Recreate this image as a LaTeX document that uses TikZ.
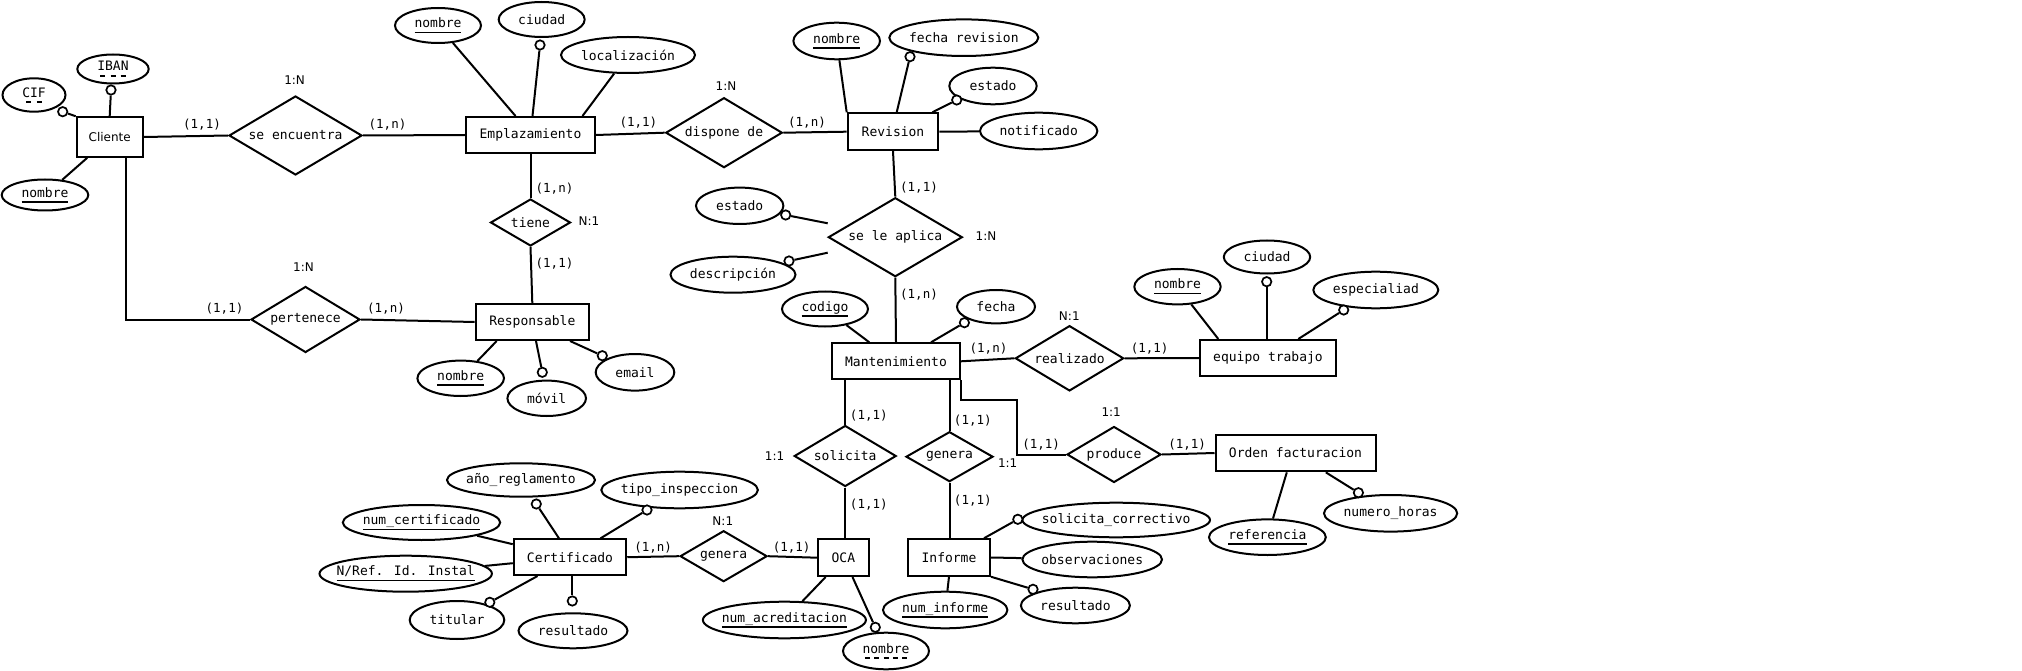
\documentclass[tikz,border=0pt]{standalone}
\usepackage{fontspec}
\setmainfont{DejaVu Sans Mono}
\newfontfamily\sansf{DejaVu Sans}
\newsavebox\ulbox
\newcommand\uln[1]{\sbox\ulbox{#1}\rlap{\rule[-5.5pt]{\wd\ulbox}{1.6pt}}\usebox\ulbox}
\newcommand\dln[1]{\sbox\ulbox{#1}\rlap{\hbox to \wd\ulbox{\xleaders\hbox{\kern2pt\vrule height -4pt depth 5.6pt width 5pt\kern2pt}\hfill}}\usebox\ulbox}
\newcommand\zb[1]{\makebox[0pt]{#1}}
\usetikzlibrary{shapes.geometric}
\tikzset{
  ent/.style={draw, rectangle, line width=2pt, inner sep=0pt, font=\fontsize{13}{15}\selectfont},
  rel/.style={draw, diamond, line width=2pt, inner sep=0pt, font=\fontsize{13}{15}\selectfont},
  attr/.style={draw, ellipse, line width=2pt, inner sep=0pt, font=\fontsize{13}{15}\selectfont},
  opt/.style={draw, circle, fill=white, line width=1.7pt, minimum size=9.4pt, inner sep=0pt},
  card/.style={inner sep=0pt, font=\fontsize{12.5}{14}\selectfont},
  ratio/.style={inner sep=0pt, font=\sansf\fontsize{12}{14}\selectfont},
  conn/.style={line width=2pt},
}
\begin{document}
\begin{tikzpicture}[x=1pt, y=-1pt]
\fill[white] (0,0) rectangle (2022,671);
\path[use as bounding box] (0,0) rectangle (2022,671);

% ---------------- entities
\node[ent, minimum width=66pt, minimum height=39.5pt, font=\sansf\fontsize{12}{14}\selectfont] (cli) at (109.7,137) {Cliente};
\node[ent, minimum width=129pt, minimum height=36pt] (empl) at (530.5,135) {Emplazamiento};
\node[ent, minimum width=113.3pt, minimum height=36pt] (resp) at (532.3,322) {Responsable};
\node[ent, minimum width=90.6pt, minimum height=36.7pt] (rev) at (893,131.7) {Revision};
\node[ent, minimum width=128pt, minimum height=36pt] (mant) at (896,361.3) {Mantenimiento};
\node[ent, minimum width=136pt, minimum height=36pt] (equipo) at (1268,358) {equipo trabajo};
\node[ent, minimum width=160pt, minimum height=36.7pt] (orden) at (1295.5,453) {Orden facturacion};
\node[ent, minimum width=51pt, minimum height=36.7pt] (oca) at (843.4,557.7) {OCA};
\node[ent, minimum width=82pt, minimum height=36.5pt] (inf) at (949,557.5) {Informe};
\node[ent, minimum width=112.5pt, minimum height=35.7pt] (cert) at (570,557.2) {Certificado};

% ---------------- relationships
\node[rel, minimum width=133pt, minimum height=79pt] (seenc) at (295.5,135.5) {\zb{se encuentra}};
\node[rel, minimum width=116.6pt, minimum height=70pt] (dispone) at (724,132.7) {\zb{dispone de}};
\node[rel, minimum width=80pt, minimum height=47pt] (tiene) at (530.5,222.5) {\zb{tiene}};
\node[rel, minimum width=109pt, minimum height=66pt] (pert) at (305.5,319.5) {\zb{pertenece}};
\node[rel, minimum width=134pt, minimum height=79pt] (aplica) at (895.3,237.2) {\zb{se le aplica}};
\node[rel, minimum width=108.4pt, minimum height=65.3pt] (realiz) at (1069.5,358.3) {\zb{realizado}};
\node[rel, minimum width=102pt, minimum height=61pt] (solic) at (845.2,456) {\zb{solicita}};
\node[rel, minimum width=87pt, minimum height=50pt] (generaI) at (949.5,456.7) {\zb{genera}};
\node[rel, minimum width=94pt, minimum height=56pt] (produce) at (1114,454.5) {\zb{produce}};
\node[rel, minimum width=87pt, minimum height=51pt] (generaC) at (723.6,556.2) {\zb{genera}};

% ---------------- attributes
\node[attr, minimum width=71.4pt, minimum height=29pt] (iban) at (113,69) {\zb{\dln{IBAN}}};
\node[attr, minimum width=63pt, minimum height=33.4pt] (cif) at (34,95) {\zb{\dln{CIF}}};
\node[attr, minimum width=86.6pt, minimum height=31pt] (nomCli) at (45,195) {\zb{\uln{nombre}}};
\node[attr, minimum width=86pt, minimum height=35pt] (nomEmp) at (438,25.5) {\zb{\uln{nombre}}};
\node[attr, minimum width=86pt, minimum height=35pt] (ciudE) at (541.7,19.5) {\zb{ciudad}};
\node[attr, minimum width=134pt, minimum height=36pt] (locE) at (628,55) {\zb{localización}};
\node[attr, minimum width=86.6pt, minimum height=35.4pt] (nomResp) at (460.7,378.3) {\zb{\uln{nombre}}};
\node[attr, minimum width=78.6pt, minimum height=35.4pt] (movil) at (546.7,398.3) {\zb{móvil}};
\node[attr, minimum width=78.6pt, minimum height=36.6pt] (email) at (635,372.3) {\zb{email}};
\node[attr, minimum width=86.6pt, minimum height=36.6pt] (nomRev) at (836.7,41) {\zb{\uln{nombre}}};
\node[attr, minimum width=149pt, minimum height=36.6pt] (fechaRev) at (963.8,37.7) {\zb{fecha revision}};
\node[attr, minimum width=87.4pt, minimum height=36.6pt] (estRev) at (993,86) {\zb{estado}};
\node[attr, minimum width=117.4pt, minimum height=36.6pt] (notif) at (1038.7,131) {\zb{notificado}};
\node[attr, minimum width=87.4pt, minimum height=36.4pt] (estAp) at (739.7,205.8) {\zb{estado}};
\node[attr, minimum width=125pt, minimum height=36pt] (desc) at (733,274.7) {\zb{descripción}};
\node[attr, minimum width=86pt, minimum height=35pt] (codigo) at (825,309) {\zb{\uln{codigo}}};
\node[attr, minimum width=78pt, minimum height=33.4pt] (fechaM) at (996,306.7) {\zb{fecha}};
\node[attr, minimum width=86.4pt, minimum height=35.4pt] (nomEq) at (1177.5,286.7) {\zb{\uln{nombre}}};
\node[attr, minimum width=86.4pt, minimum height=33pt] (ciudEq) at (1267,257) {\zb{ciudad}};
\node[attr, minimum width=125pt, minimum height=36.6pt] (espec) at (1375.8,290) {\zb{especialiad}};
\node[attr, minimum width=116.8pt, minimum height=35.6pt] (refE) at (1267.4,537.2) {\zb{\uln{referencia}}};
\node[attr, minimum width=133.2pt, minimum height=36.6pt] (numHoras) at (1390.6,513.3) {\zb{numero\_horas}};
\node[attr, minimum width=187.6pt, minimum height=34.6pt] (solCorr) at (1116.2,520) {\zb{solicita\_correctivo}};
\node[attr, minimum width=139.6pt, minimum height=35.6pt] (obs) at (1092.2,559.5) {\zb{observaciones}};
\node[attr, minimum width=109pt, minimum height=35.6pt] (resInf) at (1075.4,605.5) {\zb{resultado}};
\node[attr, minimum width=124.4pt, minimum height=36.6pt] (numInf) at (945.2,610) {\zb{\uln{num\_informe}}};
\node[attr, minimum width=148pt, minimum height=33.4pt] (anoReg) at (521,480) {\zb{año\_reglamento}};
\node[attr, minimum width=156.6pt, minimum height=36.6pt] (tipoIns) at (679.6,490) {\zb{tipo\_inspeccion}};
\node[attr, minimum width=157.4pt, minimum height=35pt] (numCert) at (421.5,522.5) {\zb{\uln{num\_certificado}}};
\node[attr, minimum width=172.4pt, minimum height=36pt] (nref) at (405.7,573.7) {\zb{\uln{N/Ref. Id. Instal}}};
\node[attr, minimum width=94.6pt, minimum height=38pt] (titular) at (457,620) {\zb{titular}};
\node[attr, minimum width=109pt, minimum height=35pt] (resCert) at (573,630.8) {\zb{resultado}};
\node[attr, minimum width=163pt, minimum height=36.6pt] (numAcr) at (784.4,620) {\zb{\uln{num\_acreditacion}}};
\node[attr, minimum width=86pt, minimum height=36.6pt] (nomOca) at (886,651) {\zb{\dln{nombre}}};

% ---------------- optional-attribute circles
\node[opt] (oIban) at (111,90) {};
\node[opt] (oCif) at (62.7,111.7) {};
\node[opt] (oCiud) at (540,45) {};
\node[opt] (oMovil) at (542.3,372.3) {};
\node[opt] (oEmail) at (602.3,355.7) {};
\node[opt] (oFechaRev) at (910,56.7) {};
\node[opt] (oEstRev) at (956.7,100) {};
\node[opt] (oEstAp) at (785.7,215) {};
\node[opt] (oDesc) at (789,261) {};
\node[opt] (oFechaM) at (964.4,322.7) {};
\node[opt] (oCiudEq) at (1266.7,281.7) {};
\node[opt] (oEspec) at (1343.7,310) {};
\node[opt] (oHoras) at (1358.4,492.7) {};
\node[opt] (oSolCorr) at (1017.8,519.3) {};
\node[opt] (oResInf) at (1033,589.3) {};
\node[opt] (oAno) at (536.3,504) {};
\node[opt] (oTipo) at (647,510) {};
\node[opt] (oTitular) at (489.8,602.3) {};
\node[opt] (oResCert) at (572.3,601) {};
\node[opt] (oNomOca) at (875.3,627.3) {};

\coordinate (apE) at (827.7,223.3);
\coordinate (apD) at (827.7,252.7);
\coordinate (kp) at (1016.6,400);

% ---------------- relationship connectors
\draw[conn] (cli.east) -- (seenc.west);
\draw[conn] (seenc.east) -- (empl.west);
\draw[conn] (empl.east) -- (dispone.west);
\draw[conn] (dispone.east) -- (rev.west);
\draw[conn] (empl.south) -- (tiene.north);
\draw[conn] (tiene.south) -- (resp.north);
\draw[conn] ([xshift=16.3pt]cli.south) |- (pert.west);
\draw[conn] (pert.east) -- (resp.west);
\draw[conn] (rev.south) -- (aplica.north);
\draw[conn] (aplica.south) -- (mant.north);
\draw[conn] (mant.east) -- (realiz.west);
\draw[conn] (realiz.east) -- (equipo.west);
\draw[conn] (solic.north |- mant.south) -- (solic.north);
\draw[conn] (generaI.north |- mant.south) -- (generaI.north);
\draw[conn] (solic.south) -- (solic.south |- oca.north);
\draw[conn] (generaI.south) -- (generaI.south |- inf.north);
\draw[conn] (mant.south east) |- (kp) |- (produce.west);
\draw[conn] (produce.east) -- (orden.west);
\draw[conn] (cert.east) -- (generaC.west);
\draw[conn] (generaC.east) -- (oca.west);

% ---------------- attribute connectors
\draw[conn] (cli.north) -- (oIban);
\draw[conn] (cli.north west) -- (oCif);
\draw[conn] ([xshift=-22.4pt]cli.south) -- (nomCli);
\draw[conn] ([xshift=-15pt]empl.north) -- (nomEmp);
\draw[conn] ([xshift=2pt]empl.north) -- (oCiud);
\draw[conn] ([xshift=52pt]empl.north) -- (locE);
\draw[conn] ([xshift=-35.6pt]resp.south) -- (nomResp);
\draw[conn] ([xshift=3.7pt]resp.south) -- (oMovil);
\draw[conn] ([xshift=37.7pt]resp.south) -- (oEmail);
\draw[conn] (rev.north west) -- (nomRev);
\draw[conn] ([xshift=3.7pt]rev.north) -- (oFechaRev);
\draw[conn] ([xshift=-7pt]rev.north east) -- (oEstRev);
\draw[conn] (rev.east) -- (notif);
\draw[conn] (apE) -- (oEstAp);
\draw[conn] (apD) -- (oDesc);
\draw[conn] ([xshift=-26.7pt]mant.north) -- (codigo);
\draw[conn] ([xshift=35pt]mant.north) -- (oFechaM);
\draw[conn] ([xshift=-49.7pt]equipo.north) -- (nomEq);
\draw[conn] ([xshift=-1.3pt]equipo.north) -- (oCiudEq);
\draw[conn] ([xshift=30.3pt]equipo.north) -- (oEspec);
\draw[conn] ([xshift=-8.7pt]orden.south) -- (refE);
\draw[conn] ([xshift=30.3pt]orden.south) -- (oHoras);
\draw[conn] ([xshift=-7pt]inf.north east) -- (oSolCorr);
\draw[conn] (inf.east) -- (obs);
\draw[conn] (inf.south east) -- (oResInf);
\draw[conn] (inf.south) -- (numInf);
\draw[conn] ([xshift=-11pt]cert.north) -- (oAno);
\draw[conn] ([xshift=30.5pt]cert.north) -- (oTipo);
\draw[conn] ([yshift=13pt]cert.west) -- (numCert);
\draw[conn] ([yshift=-6pt]cert.west) -- (nref);
\draw[conn] ([xshift=-32.5pt]cert.south) -- (oTitular);
\draw[conn] ([xshift=2.3pt]cert.south) -- (oResCert);
\draw[conn] ([xshift=-17.8pt]oca.south) -- (numAcr);
\draw[conn] ([xshift=9.1pt]oca.south) -- (oNomOca);

% ---------------- cardinality labels
\node[card] (c1) at (202,125) {(1,1)};
\node[card] (c2) at (387.5,125) {(1,n)};
\node[card] (c3) at (638.4,123) {(1,1)};
\node[card] (c4) at (807,123) {(1,n)};
\node[card] (c5) at (554.5,189) {(1,n)};
\node[card] (c6) at (554.5,264) {(1,1)};
\node[card] (c7) at (224.5,309) {(1,1)};
\node[card] (c8) at (386,309) {(1,n)};
\node[card] (c9) at (919,187.7) {(1,1)};
\node[card] (c10) at (919,295) {(1,n)};
\node[card] (c11) at (988.5,349) {(1,n)};
\node[card] (c12) at (1149.6,349) {(1,1)};
\node[card] (c13) at (868.8,415.7) {(1,1)};
\node[card] (c14) at (868.8,505) {(1,1)};
\node[card] (c15) at (972.8,421) {(1,1)};
\node[card] (c16) at (972.8,500.7) {(1,1)};
\node[card] (c17) at (1041.1,444.3) {(1,1)};
\node[card] (c18) at (1187.1,444.3) {(1,1)};
\node[card] (c19) at (653.2,547.3) {(1,n)};
\node[card] (c20) at (791.6,547.3) {(1,1)};

% ---------------- ratio labels
\node[ratio] (r1) at (294.6,80) {1:N};
\node[ratio] (r2) at (726,86) {1:N};
\node[ratio] (r3) at (589,221) {N:1};
\node[ratio] (r4) at (303.5,267) {1:N};
\node[ratio] (r5) at (986,235.7) {1:N};
\node[ratio] (r6) at (1069.3,316) {N:1};
\node[ratio] (r7) at (774.6,455.7) {1:1};
\node[ratio] (r8) at (1007.7,463.3) {1:1};
\node[ratio] (r9) at (1111.2,411.7) {1:1};
\node[ratio] (r10) at (722.8,521) {N:1};
\end{tikzpicture}
\end{document}
